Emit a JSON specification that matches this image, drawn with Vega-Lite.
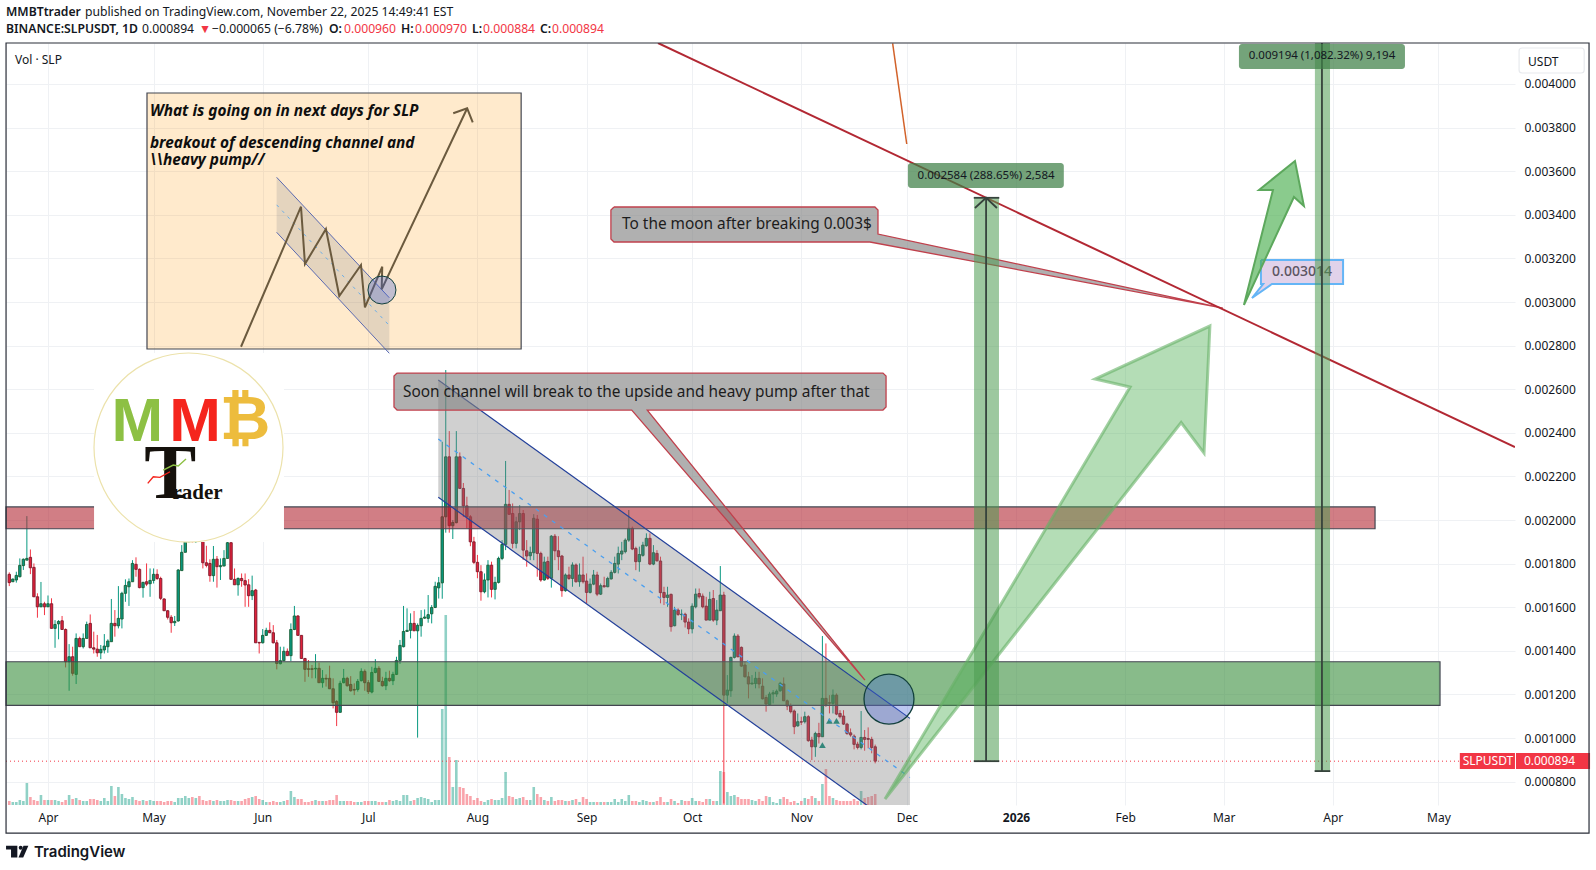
{
"$schema":"https://vega.github.io/schema/vega-lite/v6.json",
"autosize":"none",
"width":1509,"height":762,
"padding":{"left":6,"top":43,"right":81,"bottom":65},
"background":"#ffffff",
"config":{"view":{"stroke":null},"font":"Noto Sans"},
"datasets":{"candles":[
{"d":"2025-03-21","o":0.001751,"h":0.00176,"l":0.001697,"c":0.001713,"v":4},
{"d":"2025-03-22","o":0.001717,"h":0.001732,"l":0.001717,"c":0.001729,"v":3},
{"d":"2025-03-23","o":0.001725,"h":0.001763,"l":0.001713,"c":0.001746,"v":3},
{"d":"2025-03-24","o":0.00174,"h":0.001824,"l":0.001737,"c":0.001792,"v":5},
{"d":"2025-03-25","o":0.001791,"h":0.001824,"l":0.001771,"c":0.00182,"v":4},
{"d":"2025-03-26","o":0.001816,"h":0.002018,"l":0.001816,"c":0.001824,"v":22},
{"d":"2025-03-27","o":0.001829,"h":0.001865,"l":0.001752,"c":0.001781,"v":8},
{"d":"2025-03-28","o":0.001783,"h":0.001801,"l":0.001648,"c":0.001648,"v":5},
{"d":"2025-03-29","o":0.001648,"h":0.001664,"l":0.001552,"c":0.001602,"v":4},
{"d":"2025-03-30","o":0.001602,"h":0.001716,"l":0.001602,"c":0.001616,"v":10},
{"d":"2025-03-31","o":0.001616,"h":0.001625,"l":0.001564,"c":0.001602,"v":5},
{"d":"2025-04-01","o":0.001602,"h":0.001654,"l":0.001602,"c":0.001616,"v":5},
{"d":"2025-04-02","o":0.001616,"h":0.001641,"l":0.001503,"c":0.001503,"v":5},
{"d":"2025-04-03","o":0.001503,"h":0.001541,"l":0.001414,"c":0.001521,"v":5},
{"d":"2025-04-04","o":0.001524,"h":0.001541,"l":0.001453,"c":0.001535,"v":4},
{"d":"2025-04-05","o":0.001538,"h":0.00156,"l":0.001498,"c":0.001498,"v":3},
{"d":"2025-04-06","o":0.001498,"h":0.001503,"l":0.001324,"c":0.00135,"v":5},
{"d":"2025-04-07","o":0.00135,"h":0.001431,"l":0.001217,"c":0.001373,"v":10},
{"d":"2025-04-08","o":0.001373,"h":0.001419,"l":0.001286,"c":0.001297,"v":6},
{"d":"2025-04-09","o":0.001292,"h":0.00148,"l":0.001248,"c":0.001457,"v":7},
{"d":"2025-04-10","o":0.001457,"h":0.001465,"l":0.001419,"c":0.001419,"v":5},
{"d":"2025-04-11","o":0.001419,"h":0.00148,"l":0.001411,"c":0.001457,"v":4},
{"d":"2025-04-12","o":0.001457,"h":0.001534,"l":0.001457,"c":0.001521,"v":4},
{"d":"2025-04-13","o":0.001526,"h":0.001567,"l":0.001414,"c":0.001414,"v":6},
{"d":"2025-04-14","o":0.001414,"h":0.001488,"l":0.001388,"c":0.001408,"v":6},
{"d":"2025-04-15","o":0.001408,"h":0.001473,"l":0.001373,"c":0.001391,"v":5},
{"d":"2025-04-16","o":0.001391,"h":0.001427,"l":0.001362,"c":0.001407,"v":4},
{"d":"2025-04-17","o":0.001404,"h":0.001477,"l":0.001388,"c":0.001422,"v":7},
{"d":"2025-04-18","o":0.001419,"h":0.001453,"l":0.001391,"c":0.001445,"v":4},
{"d":"2025-04-19","o":0.001442,"h":0.001638,"l":0.001442,"c":0.001526,"v":19},
{"d":"2025-04-20","o":0.001526,"h":0.001587,"l":0.001465,"c":0.001515,"v":9},
{"d":"2025-04-21","o":0.001515,"h":0.001697,"l":0.001503,"c":0.001549,"v":18},
{"d":"2025-04-22","o":0.001546,"h":0.001671,"l":0.001503,"c":0.001664,"v":11},
{"d":"2025-04-23","o":0.001664,"h":0.001728,"l":0.001625,"c":0.0017,"v":7},
{"d":"2025-04-24","o":0.001694,"h":0.001732,"l":0.001606,"c":0.001717,"v":6},
{"d":"2025-04-25","o":0.001717,"h":0.001816,"l":0.001717,"c":0.001801,"v":8},
{"d":"2025-04-26","o":0.001797,"h":0.001829,"l":0.00174,"c":0.001774,"v":5},
{"d":"2025-04-27","o":0.001774,"h":0.001778,"l":0.001687,"c":0.00169,"v":4},
{"d":"2025-04-28","o":0.00169,"h":0.001717,"l":0.001644,"c":0.001714,"v":5},
{"d":"2025-04-29","o":0.001717,"h":0.001801,"l":0.001697,"c":0.001706,"v":4},
{"d":"2025-04-30","o":0.001708,"h":0.001778,"l":0.001648,"c":0.001723,"v":5},
{"d":"2025-05-01","o":0.001723,"h":0.001778,"l":0.001709,"c":0.001751,"v":4},
{"d":"2025-05-02","o":0.001751,"h":0.001774,"l":0.001725,"c":0.001732,"v":4},
{"d":"2025-05-03","o":0.001732,"h":0.00174,"l":0.001633,"c":0.001641,"v":4},
{"d":"2025-05-04","o":0.001638,"h":0.001641,"l":0.001584,"c":0.001584,"v":3},
{"d":"2025-05-05","o":0.001584,"h":0.001587,"l":0.001544,"c":0.001554,"v":4},
{"d":"2025-05-06","o":0.001554,"h":0.001564,"l":0.001483,"c":0.001529,"v":4},
{"d":"2025-05-07","o":0.001529,"h":0.00156,"l":0.001514,"c":0.001535,"v":3},
{"d":"2025-05-08","o":0.001537,"h":0.001774,"l":0.001534,"c":0.001771,"v":7},
{"d":"2025-05-09","o":0.001768,"h":0.001885,"l":0.001768,"c":0.001852,"v":7},
{"d":"2025-05-10","o":0.001852,"h":0.001924,"l":0.001852,"c":0.001901,"v":9},
{"d":"2025-05-11","o":0.001901,"h":0.00199,"l":0.001897,"c":0.00195,"v":7},
{"d":"2025-05-12","o":0.00195,"h":0.001985,"l":0.001897,"c":0.001925,"v":8},
{"d":"2025-05-13","o":0.001925,"h":0.00199,"l":0.001895,"c":0.00196,"v":7},
{"d":"2025-05-14","o":0.00196,"h":0.001985,"l":0.0019,"c":0.00194,"v":9},
{"d":"2025-05-15","o":0.00194,"h":0.00196,"l":0.001778,"c":0.001804,"v":5},
{"d":"2025-05-16","o":0.001804,"h":0.001882,"l":0.001783,"c":0.001792,"v":4},
{"d":"2025-05-17","o":0.001801,"h":0.00182,"l":0.001717,"c":0.001745,"v":5},
{"d":"2025-05-18","o":0.001745,"h":0.001881,"l":0.001717,"c":0.00182,"v":4},
{"d":"2025-05-19","o":0.001821,"h":0.001835,"l":0.00169,"c":0.001786,"v":5},
{"d":"2025-05-20","o":0.001786,"h":0.001824,"l":0.001725,"c":0.001791,"v":4},
{"d":"2025-05-21","o":0.001789,"h":0.001862,"l":0.001789,"c":0.001824,"v":4},
{"d":"2025-05-22","o":0.001824,"h":0.0019,"l":0.001824,"c":0.001896,"v":5},
{"d":"2025-05-23","o":0.001896,"h":0.0019,"l":0.001728,"c":0.001728,"v":5},
{"d":"2025-05-24","o":0.001728,"h":0.001778,"l":0.001703,"c":0.001703,"v":4},
{"d":"2025-05-25","o":0.001703,"h":0.001737,"l":0.001653,"c":0.001732,"v":4},
{"d":"2025-05-26","o":0.001732,"h":0.001755,"l":0.001694,"c":0.001722,"v":4},
{"d":"2025-05-27","o":0.001722,"h":0.001755,"l":0.001602,"c":0.001702,"v":6},
{"d":"2025-05-28","o":0.001703,"h":0.001729,"l":0.001602,"c":0.001653,"v":7},
{"d":"2025-05-29","o":0.001653,"h":0.001745,"l":0.001633,"c":0.001676,"v":8},
{"d":"2025-05-30","o":0.001679,"h":0.001684,"l":0.001437,"c":0.001437,"v":9},
{"d":"2025-05-31","o":0.001439,"h":0.001439,"l":0.001388,"c":0.001436,"v":6},
{"d":"2025-06-01","o":0.001437,"h":0.0015,"l":0.001434,"c":0.001471,"v":5},
{"d":"2025-06-02","o":0.001471,"h":0.001506,"l":0.001468,"c":0.001494,"v":3},
{"d":"2025-06-03","o":0.001494,"h":0.001531,"l":0.001483,"c":0.001483,"v":3},
{"d":"2025-06-04","o":0.001483,"h":0.001518,"l":0.001434,"c":0.001437,"v":4},
{"d":"2025-06-05","o":0.001437,"h":0.00145,"l":0.001315,"c":0.001342,"v":3},
{"d":"2025-06-06","o":0.001341,"h":0.001419,"l":0.001338,"c":0.001355,"v":3},
{"d":"2025-06-07","o":0.001355,"h":0.001419,"l":0.001353,"c":0.001398,"v":4},
{"d":"2025-06-08","o":0.001398,"h":0.001411,"l":0.001378,"c":0.001378,"v":5},
{"d":"2025-06-09","o":0.001378,"h":0.001526,"l":0.001353,"c":0.001498,"v":14},
{"d":"2025-06-10","o":0.001498,"h":0.001606,"l":0.001495,"c":0.00156,"v":8},
{"d":"2025-06-11","o":0.00156,"h":0.001564,"l":0.001471,"c":0.001471,"v":6},
{"d":"2025-06-12","o":0.001471,"h":0.001472,"l":0.001365,"c":0.001365,"v":6},
{"d":"2025-06-13","o":0.001365,"h":0.001368,"l":0.001258,"c":0.001315,"v":3},
{"d":"2025-06-14","o":0.001318,"h":0.001358,"l":0.001281,"c":0.001315,"v":3},
{"d":"2025-06-15","o":0.001318,"h":0.001335,"l":0.001274,"c":0.001315,"v":4},
{"d":"2025-06-16","o":0.001317,"h":0.001385,"l":0.001274,"c":0.00132,"v":5},
{"d":"2025-06-17","o":0.00132,"h":0.001346,"l":0.001254,"c":0.001254,"v":4},
{"d":"2025-06-18","o":0.001254,"h":0.001312,"l":0.001231,"c":0.001274,"v":4},
{"d":"2025-06-19","o":0.001274,"h":0.001292,"l":0.001236,"c":0.001271,"v":4},
{"d":"2025-06-20","o":0.001274,"h":0.001332,"l":0.001226,"c":0.001226,"v":5},
{"d":"2025-06-21","o":0.001226,"h":0.001274,"l":0.001136,"c":0.001162,"v":5},
{"d":"2025-06-22","o":0.001168,"h":0.001174,"l":0.001055,"c":0.001118,"v":10},
{"d":"2025-06-23","o":0.001118,"h":0.001263,"l":0.001118,"c":0.001251,"v":4},
{"d":"2025-06-24","o":0.001254,"h":0.001317,"l":0.001251,"c":0.001274,"v":4},
{"d":"2025-06-25","o":0.001274,"h":0.001281,"l":0.001236,"c":0.00124,"v":4},
{"d":"2025-06-26","o":0.001246,"h":0.001284,"l":0.001213,"c":0.001217,"v":4},
{"d":"2025-06-27","o":0.001223,"h":0.001251,"l":0.001197,"c":0.00122,"v":3},
{"d":"2025-06-28","o":0.001223,"h":0.001271,"l":0.001213,"c":0.00126,"v":3},
{"d":"2025-06-29","o":0.001263,"h":0.00132,"l":0.00126,"c":0.001306,"v":3},
{"d":"2025-06-30","o":0.001306,"h":0.001315,"l":0.001217,"c":0.001254,"v":4},
{"d":"2025-07-01","o":0.001254,"h":0.001266,"l":0.001202,"c":0.001213,"v":4},
{"d":"2025-07-02","o":0.001211,"h":0.001327,"l":0.001205,"c":0.001301,"v":4},
{"d":"2025-07-03","o":0.001301,"h":0.001362,"l":0.001297,"c":0.00132,"v":4},
{"d":"2025-07-04","o":0.00132,"h":0.00133,"l":0.001257,"c":0.00126,"v":3},
{"d":"2025-07-05","o":0.00126,"h":0.001281,"l":0.001236,"c":0.00124,"v":3},
{"d":"2025-07-06","o":0.00124,"h":0.001304,"l":0.00122,"c":0.001274,"v":3},
{"d":"2025-07-07","o":0.001274,"h":0.001309,"l":0.001258,"c":0.001263,"v":5},
{"d":"2025-07-08","o":0.001263,"h":0.001304,"l":0.001243,"c":0.001292,"v":4},
{"d":"2025-07-09","o":0.001292,"h":0.001373,"l":0.001289,"c":0.001356,"v":5},
{"d":"2025-07-10","o":0.001356,"h":0.00145,"l":0.00134,"c":0.001425,"v":4},
{"d":"2025-07-11","o":0.001419,"h":0.001606,"l":0.001416,"c":0.001489,"v":10},
{"d":"2025-07-12","o":0.001489,"h":0.001595,"l":0.001489,"c":0.001494,"v":10},
{"d":"2025-07-13","o":0.001494,"h":0.001572,"l":0.001457,"c":0.001526,"v":4},
{"d":"2025-07-14","o":0.001526,"h":0.001583,"l":0.001492,"c":0.001492,"v":5},
{"d":"2025-07-15","o":0.001492,"h":0.001526,"l":0.001002,"c":0.001517,"v":7},
{"d":"2025-07-16","o":0.001515,"h":0.001587,"l":0.001465,"c":0.001549,"v":8},
{"d":"2025-07-17","o":0.00155,"h":0.00159,"l":0.001547,"c":0.001555,"v":7},
{"d":"2025-07-18","o":0.001549,"h":0.001656,"l":0.001529,"c":0.001566,"v":6},
{"d":"2025-07-19","o":0.00157,"h":0.00161,"l":0.001526,"c":0.001599,"v":3},
{"d":"2025-07-20","o":0.001599,"h":0.001717,"l":0.001596,"c":0.001696,"v":5},
{"d":"2025-07-21","o":0.001689,"h":0.001739,"l":0.00164,"c":0.001712,"v":5},
{"d":"2025-07-22","o":0.001712,"h":0.002359,"l":0.001639,"c":0.002015,"v":96},
{"d":"2025-07-23","o":0.002015,"h":0.002688,"l":0.001942,"c":0.00229,"v":190},
{"d":"2025-07-24","o":0.00229,"h":0.002408,"l":0.001942,"c":0.001974,"v":48},
{"d":"2025-07-25","o":0.001974,"h":0.002,"l":0.001913,"c":0.001989,"v":18},
{"d":"2025-07-26","o":0.001988,"h":0.002408,"l":0.001985,"c":0.00229,"v":45},
{"d":"2025-07-27","o":0.00229,"h":0.00231,"l":0.002145,"c":0.002145,"v":18},
{"d":"2025-07-28","o":0.002145,"h":0.00217,"l":0.002015,"c":0.002065,"v":17},
{"d":"2025-07-29","o":0.002065,"h":0.002107,"l":0.001962,"c":0.002015,"v":11},
{"d":"2025-07-30","o":0.002015,"h":0.002023,"l":0.00188,"c":0.0019,"v":9},
{"d":"2025-07-31","o":0.0019,"h":0.001923,"l":0.001798,"c":0.001806,"v":5},
{"d":"2025-08-01","o":0.001806,"h":0.00184,"l":0.001733,"c":0.001763,"v":7},
{"d":"2025-08-02","o":0.001763,"h":0.001793,"l":0.00163,"c":0.001671,"v":4},
{"d":"2025-08-03","o":0.001671,"h":0.001755,"l":0.001664,"c":0.001725,"v":3},
{"d":"2025-08-04","o":0.001725,"h":0.001816,"l":0.001645,"c":0.001793,"v":5},
{"d":"2025-08-05","o":0.001793,"h":0.001809,"l":0.001645,"c":0.001682,"v":6},
{"d":"2025-08-06","o":0.001682,"h":0.00174,"l":0.001636,"c":0.001714,"v":5},
{"d":"2025-08-07","o":0.001714,"h":0.001832,"l":0.001709,"c":0.001824,"v":5},
{"d":"2025-08-08","o":0.001824,"h":0.001908,"l":0.001816,"c":0.001888,"v":7},
{"d":"2025-08-09","o":0.001888,"h":0.002271,"l":0.001862,"c":0.002072,"v":33},
{"d":"2025-08-10","o":0.002072,"h":0.002138,"l":0.002026,"c":0.002026,"v":9},
{"d":"2025-08-11","o":0.00203,"h":0.002076,"l":0.00187,"c":0.001893,"v":8},
{"d":"2025-08-12","o":0.001893,"h":0.002015,"l":0.00187,"c":0.001992,"v":6},
{"d":"2025-08-13","o":0.001992,"h":0.002068,"l":0.001954,"c":0.00203,"v":7},
{"d":"2025-08-14","o":0.00203,"h":0.002046,"l":0.001817,"c":0.001862,"v":8},
{"d":"2025-08-15","o":0.001859,"h":0.001908,"l":0.001786,"c":0.001835,"v":5},
{"d":"2025-08-16","o":0.001836,"h":0.001878,"l":0.001816,"c":0.001852,"v":5},
{"d":"2025-08-17","o":0.00185,"h":0.002027,"l":0.001816,"c":0.002008,"v":18},
{"d":"2025-08-18","o":0.002004,"h":0.002023,"l":0.00174,"c":0.001847,"v":11},
{"d":"2025-08-19","o":0.001847,"h":0.001855,"l":0.001717,"c":0.001725,"v":8},
{"d":"2025-08-20","o":0.001725,"h":0.001832,"l":0.001722,"c":0.001807,"v":5},
{"d":"2025-08-21","o":0.00181,"h":0.001832,"l":0.001725,"c":0.001733,"v":4},
{"d":"2025-08-22","o":0.001733,"h":0.001931,"l":0.00169,"c":0.001926,"v":8},
{"d":"2025-08-23","o":0.001926,"h":0.001936,"l":0.001816,"c":0.001859,"v":4},
{"d":"2025-08-24","o":0.001859,"h":0.001926,"l":0.00177,"c":0.001832,"v":5},
{"d":"2025-08-25","o":0.001835,"h":0.00184,"l":0.001648,"c":0.001676,"v":5},
{"d":"2025-08-26","o":0.001676,"h":0.001755,"l":0.001671,"c":0.001748,"v":4},
{"d":"2025-08-27","o":0.001748,"h":0.001786,"l":0.001725,"c":0.001732,"v":4},
{"d":"2025-08-28","o":0.001732,"h":0.001806,"l":0.001694,"c":0.001794,"v":5},
{"d":"2025-08-29","o":0.001794,"h":0.001801,"l":0.001713,"c":0.001717,"v":6},
{"d":"2025-08-30","o":0.001717,"h":0.001801,"l":0.001694,"c":0.001748,"v":3},
{"d":"2025-08-31","o":0.001748,"h":0.001832,"l":0.001709,"c":0.001717,"v":8},
{"d":"2025-09-01","o":0.00172,"h":0.001755,"l":0.001618,"c":0.001668,"v":6},
{"d":"2025-09-02","o":0.001668,"h":0.001732,"l":0.001663,"c":0.001706,"v":3},
{"d":"2025-09-03","o":0.001706,"h":0.001771,"l":0.001701,"c":0.001748,"v":3},
{"d":"2025-09-04","o":0.001748,"h":0.001763,"l":0.001651,"c":0.00166,"v":3},
{"d":"2025-09-05","o":0.00166,"h":0.001709,"l":0.001656,"c":0.001699,"v":3},
{"d":"2025-09-06","o":0.001699,"h":0.00174,"l":0.00169,"c":0.001694,"v":3},
{"d":"2025-09-07","o":0.001694,"h":0.00174,"l":0.001692,"c":0.001732,"v":3},
{"d":"2025-09-08","o":0.00173,"h":0.00177,"l":0.001727,"c":0.00176,"v":3},
{"d":"2025-09-09","o":0.00176,"h":0.001832,"l":0.001755,"c":0.001801,"v":6},
{"d":"2025-09-10","o":0.001798,"h":0.001878,"l":0.001755,"c":0.001847,"v":3},
{"d":"2025-09-11","o":0.001844,"h":0.0019,"l":0.001816,"c":0.001858,"v":6},
{"d":"2025-09-12","o":0.001855,"h":0.001916,"l":0.001847,"c":0.001908,"v":4},
{"d":"2025-09-13","o":0.001908,"h":0.002046,"l":0.0019,"c":0.001962,"v":10},
{"d":"2025-09-14","o":0.001962,"h":0.00197,"l":0.001862,"c":0.001867,"v":4},
{"d":"2025-09-15","o":0.00187,"h":0.001878,"l":0.00177,"c":0.001809,"v":4},
{"d":"2025-09-16","o":0.001809,"h":0.001878,"l":0.001763,"c":0.001842,"v":3},
{"d":"2025-09-17","o":0.001838,"h":0.0019,"l":0.001832,"c":0.001885,"v":5},
{"d":"2025-09-18","o":0.001882,"h":0.001939,"l":0.001878,"c":0.001916,"v":4},
{"d":"2025-09-19","o":0.001916,"h":0.001939,"l":0.001793,"c":0.001798,"v":3},
{"d":"2025-09-20","o":0.001798,"h":0.001885,"l":0.001793,"c":0.00185,"v":3},
{"d":"2025-09-21","o":0.001847,"h":0.001862,"l":0.001809,"c":0.001813,"v":4},
{"d":"2025-09-22","o":0.001812,"h":0.001832,"l":0.001618,"c":0.001667,"v":8},
{"d":"2025-09-23","o":0.001668,"h":0.001694,"l":0.00161,"c":0.001645,"v":3},
{"d":"2025-09-24","o":0.001645,"h":0.001694,"l":0.001602,"c":0.001656,"v":3},
{"d":"2025-09-25","o":0.001659,"h":0.001663,"l":0.001488,"c":0.001511,"v":6},
{"d":"2025-09-26","o":0.001515,"h":0.001602,"l":0.001513,"c":0.001587,"v":4},
{"d":"2025-09-27","o":0.001587,"h":0.001595,"l":0.00156,"c":0.001567,"v":2},
{"d":"2025-09-28","o":0.001566,"h":0.00159,"l":0.001541,"c":0.001568,"v":5},
{"d":"2025-09-29","o":0.001568,"h":0.001575,"l":0.001507,"c":0.001532,"v":4},
{"d":"2025-09-30","o":0.001532,"h":0.001549,"l":0.001477,"c":0.001501,"v":4},
{"d":"2025-10-01","o":0.001501,"h":0.001618,"l":0.00148,"c":0.001605,"v":7},
{"d":"2025-10-02","o":0.001602,"h":0.001686,"l":0.001595,"c":0.00166,"v":4},
{"d":"2025-10-03","o":0.001663,"h":0.001686,"l":0.00164,"c":0.001648,"v":4},
{"d":"2025-10-04","o":0.001651,"h":0.001663,"l":0.001595,"c":0.001602,"v":3},
{"d":"2025-10-05","o":0.001605,"h":0.001648,"l":0.001541,"c":0.001541,"v":6},
{"d":"2025-10-06","o":0.001541,"h":0.001671,"l":0.001541,"c":0.001636,"v":6},
{"d":"2025-10-07","o":0.00164,"h":0.001679,"l":0.001533,"c":0.001541,"v":4},
{"d":"2025-10-08","o":0.001541,"h":0.001633,"l":0.001518,"c":0.001587,"v":4},
{"d":"2025-10-09","o":0.001584,"h":0.001789,"l":0.001584,"c":0.001656,"v":34},
{"d":"2025-10-10","o":0.001656,"h":0.001671,"l":0.0007,"c":0.001197,"v":33},
{"d":"2025-10-11","o":0.001197,"h":0.001289,"l":0.001159,"c":0.00122,"v":13},
{"d":"2025-10-12","o":0.001217,"h":0.001373,"l":0.001189,"c":0.00137,"v":9},
{"d":"2025-10-13","o":0.00137,"h":0.00148,"l":0.001365,"c":0.001468,"v":10},
{"d":"2025-10-14","o":0.001468,"h":0.001477,"l":0.00137,"c":0.001373,"v":8},
{"d":"2025-10-15","o":0.001416,"h":0.00142,"l":0.001327,"c":0.00133,"v":6},
{"d":"2025-10-16","o":0.001335,"h":0.00135,"l":0.001278,"c":0.001281,"v":6},
{"d":"2025-10-17","o":0.001281,"h":0.001304,"l":0.001182,"c":0.001248,"v":6},
{"d":"2025-10-18","o":0.001248,"h":0.001289,"l":0.001246,"c":0.001252,"v":5},
{"d":"2025-10-19","o":0.00125,"h":0.001304,"l":0.001228,"c":0.001274,"v":4},
{"d":"2025-10-20","o":0.001274,"h":0.001304,"l":0.001228,"c":0.001248,"v":6},
{"d":"2025-10-21","o":0.001238,"h":0.001274,"l":0.001177,"c":0.00118,"v":4},
{"d":"2025-10-22","o":0.001186,"h":0.001197,"l":0.001121,"c":0.001156,"v":9},
{"d":"2025-10-23","o":0.001153,"h":0.001212,"l":0.001151,"c":0.001202,"v":8},
{"d":"2025-10-24","o":0.001202,"h":0.00122,"l":0.001159,"c":0.001208,"v":3},
{"d":"2025-10-25","o":0.001202,"h":0.001223,"l":0.001189,"c":0.001215,"v":2},
{"d":"2025-10-26","o":0.001217,"h":0.001258,"l":0.001212,"c":0.001251,"v":6},
{"d":"2025-10-27","o":0.001248,"h":0.001278,"l":0.001171,"c":0.001171,"v":8},
{"d":"2025-10-28","o":0.001171,"h":0.001177,"l":0.001128,"c":0.001147,"v":6},
{"d":"2025-10-29","o":0.001147,"h":0.001159,"l":0.001113,"c":0.001121,"v":3},
{"d":"2025-10-30","o":0.001124,"h":0.001131,"l":0.001018,"c":0.001052,"v":4},
{"d":"2025-10-31","o":0.001056,"h":0.001113,"l":0.001052,"c":0.001075,"v":2},
{"d":"2025-11-01","o":0.001075,"h":0.001098,"l":0.00106,"c":0.001073,"v":4},
{"d":"2025-11-02","o":0.001075,"h":0.001121,"l":0.001067,"c":0.001098,"v":7},
{"d":"2025-11-03","o":0.001098,"h":0.001105,"l":0.000983,"c":0.000988,"v":6},
{"d":"2025-11-04","o":0.000991,"h":0.001006,"l":0.000899,"c":0.00096,"v":9},
{"d":"2025-11-05","o":0.00096,"h":0.001029,"l":0.000914,"c":0.001021,"v":7},
{"d":"2025-11-06","o":0.001021,"h":0.00107,"l":0.000975,"c":0.001006,"v":4},
{"d":"2025-11-07","o":0.001006,"h":0.001468,"l":0.001006,"c":0.001182,"v":21},
{"d":"2025-11-08","o":0.001182,"h":0.001434,"l":0.001143,"c":0.001154,"v":36},
{"d":"2025-11-09","o":0.001162,"h":0.001197,"l":0.001113,"c":0.00116,"v":9},
{"d":"2025-11-10","o":0.001159,"h":0.001223,"l":0.001113,"c":0.001197,"v":7},
{"d":"2025-11-11","o":0.001197,"h":0.001205,"l":0.001105,"c":0.00111,"v":5},
{"d":"2025-11-12","o":0.001113,"h":0.001128,"l":0.00109,"c":0.001098,"v":4},
{"d":"2025-11-13","o":0.001101,"h":0.001128,"l":0.00106,"c":0.001064,"v":4},
{"d":"2025-11-14","o":0.001064,"h":0.00107,"l":0.001014,"c":0.001021,"v":4},
{"d":"2025-11-15","o":0.001024,"h":0.001044,"l":0.001006,"c":0.001014,"v":4},
{"d":"2025-11-16","o":0.001009,"h":0.001017,"l":0.000948,"c":0.000971,"v":6},
{"d":"2025-11-17","o":0.000972,"h":0.000983,"l":0.000948,"c":0.000957,"v":4},
{"d":"2025-11-18","o":0.000957,"h":0.001124,"l":0.000948,"c":0.001003,"v":14},
{"d":"2025-11-19","o":0.001003,"h":0.001037,"l":0.000942,"c":0.000994,"v":7},
{"d":"2025-11-20","o":0.000998,"h":0.001049,"l":0.000953,"c":0.000994,"v":8},
{"d":"2025-11-21","o":0.000994,"h":0.001006,"l":0.00093,"c":0.000957,"v":9},
{"d":"2025-11-22","o":0.00096,"h":0.00097,"l":0.000884,"c":0.000894,"v":11}
]},
"encoding":{"x":{"field":"d","type":"temporal",
"scale":{"type":"utc","domain":[{"year":2025,"month":3,"date":20,"hours":1,"minutes":41,"utc":true},{"year":2026,"month":5,"date":22,"hours":18,"minutes":14,"utc":true}],"nice":false,"padding":0},
"axis":{"title":null,"grid":true,"gridColor":"#eff1f4","gridWidth":1,"domain":false,"ticks":false,"labelPadding":7,"labelFontSize":12,"labelColor":"#131722","labelFont":"Noto Sans","labelOverlap":false,"labelFlush":false,
"values":[{"year":2025,"month":4,"date":1,"utc":true},{"year":2025,"month":5,"date":1,"utc":true},{"year":2025,"month":6,"date":1,"utc":true},{"year":2025,"month":7,"date":1,"utc":true},{"year":2025,"month":8,"date":1,"utc":true},{"year":2025,"month":9,"date":1,"utc":true},{"year":2025,"month":10,"date":1,"utc":true},{"year":2025,"month":11,"date":1,"utc":true},{"year":2025,"month":12,"date":1,"utc":true},{"year":2026,"month":1,"date":1,"utc":true},{"year":2026,"month":2,"date":1,"utc":true},{"year":2026,"month":3,"date":1,"utc":true},{"year":2026,"month":4,"date":1,"utc":true},{"year":2026,"month":5,"date":1,"utc":true}],
"labelExpr":"utcmonth(datum.value)==0 ? '2026' : utcFormat(datum.value,'%b')",
"labelFontWeight":{"condition":{"test":"utcmonth(datum.value)==0","value":"bold"},"value":"normal"}}}},
"resolve":{"scale":{"y":"independent"}},
"layer":[
{"data":{"name":"candles"},"mark":{"type":"bar","size":2.6,"opacity":0.45},
"encoding":{"y":{"field":"v","type":"quantitative","scale":{"domain":[0,762],"nice":false},"axis":null},
"color":{"condition":{"test":"datum.c>=datum.o","value":"#089981"},"value":"#f23645"}}},
{"encoding":{"y":{"field":"p","type":"quantitative","scale":{"domain":[0.000693,0.004188],"nice":false,"zero":false},
"axis":{"title":null,"orient":"right","grid":true,"gridColor":"#eff1f4","gridWidth":1,"domain":false,"ticks":false,"labelPadding":9,"labelFontSize":12,"labelColor":"#131722","labelFont":"Noto Sans","labelOverlap":false,"labelFlush":false,"format":".6f",
"values":[0.0008,0.001,0.0012,0.0014,0.0016,0.0018,0.002,0.0022,0.0024,0.0026,0.0028,0.003,0.0032,0.0034,0.0036,0.0038,0.004]}}},
"layer":[
{"data":{"name":"candles"},"mark":{"type":"rule","strokeWidth":1},"encoding":{"y":{"field":"l","type":"quantitative"},"y2":{"field":"h"},"color":{"condition":{"test":"datum.c>=datum.o","value":"#089981"},"value":"#f23645"}}},
{"data":{"name":"candles"},"mark":{"type":"bar","size":2.4,"strokeWidth":0.9},"encoding":{"y":{"field":"o","type":"quantitative"},"y2":{"field":"c"},"color":{"condition":{"test":"datum.c>=datum.o","value":"#089981"},"value":"#e0213a"},"stroke":{"condition":{"test":"datum.c>=datum.o","value":"#1b5e33"},"value":"#7d1a2b"}}},
{"data":{"values":[{"d":"2025-11-07","p":0.000968},{"d":"2025-11-09","p":0.001079},{"d":"2025-11-11","p":0.001079}]},"mark":{"type":"point","shape":"triangle-up","filled":true,"size":45,"color":"#0f8f7d","opacity":1}},
{"data":{"values":[{"p":0.000894}]},"mark":{"type":"rule","color":"#f23645","strokeDash":[1,3],"strokeWidth":1},"encoding":{"x":{"value":0},"x2":{"value":1509},"y":{"field":"p","type":"quantitative"}}},
{"data":{"values":[{"d":"2025-03-20T02:00Z","d2":"2026-04-13","p":0.00206,"p2":0.00196}]},"mark":{"type":"rect","fill":"#b22833","fillOpacity":0.6,"stroke":"#434651","strokeWidth":1.2},"encoding":{"x2":{"field":"d2"},"y2":{"field":"p2"}}},
{"data":{"values":[{"d":"2025-03-20T02:00Z","d2":"2026-05-01T11:00Z","p":0.00135,"p2":0.00115}]},"mark":{"type":"rect","fill":"#388e3c","fillOpacity":0.6,"stroke":"#434651","strokeWidth":1.2},"encoding":{"x2":{"field":"d2"},"y2":{"field":"p2"}}},
{"data":{"values":[{"i":1,"d":"2025-07-20T21:00Z","p":0.0026422},{"i":2,"d":"2025-12-01T21:00Z","p":0.0010903},{"i":3,"d":"2025-12-01T21:00Z","p":0.0005503},{"i":4,"d":"2025-07-20T21:00Z","p":0.0021041}]},"mark":{"type":"line","clip":true,"stroke":null,"fill":"#777777","fillOpacity":0.35},"encoding":{"order":{"field":"i"}}},
{"data":{"values":[{"g":"u","d":"2025-07-20T21:00Z","p":0.0026422},{"g":"u","d":"2025-12-01T21:00Z","p":0.0010903},{"g":"l","d":"2025-07-20T21:00Z","p":0.0021041},{"g":"l","d":"2025-12-01T21:00Z","p":0.0005503}]},"mark":{"type":"line","clip":true,"color":"#23409a","strokeWidth":1.2},"encoding":{"detail":{"field":"g"}}},
{"data":{"values":[{"d":"2025-07-20T21:00Z","p":0.0023715},{"d":"2025-12-01T21:00Z","p":0.0008188}]},"mark":{"type":"line","clip":true,"color":"#4a9ff0","strokeWidth":1.3,"strokeDash":[4,6]}},
{"data":{"values":[{"d":"2025-11-25T22:00Z","p":0.0011788}]},"mark":{"type":"circle","size":2500,"fill":"#3f5fd8","fillOpacity":0.35,"stroke":"#12403c","strokeWidth":1.3,"opacity":1}},
{"data":{"values":[{"i":1,"d":"2025-07-09T04:00Z","p":0.0026743},{"i":2,"d":"2025-11-24T05:00Z","p":0.0026743},{"i":3,"d":"2025-11-25T02:00Z","p":0.0026605},{"i":4,"d":"2025-11-25T02:00Z","p":0.0025183},{"i":5,"d":"2025-11-24T05:00Z","p":0.0025045},{"i":6,"d":"2025-09-18T06:00Z","p":0.0025045},{"i":7,"d":"2025-11-19T02:00Z","p":0.001266},{"i":8,"d":"2025-09-13T20:00Z","p":0.0025045},{"i":9,"d":"2025-07-09T04:00Z","p":0.0025045},{"i":10,"d":"2025-07-08T07:00Z","p":0.0025183},{"i":11,"d":"2025-07-08T07:00Z","p":0.0026605},{"i":12,"d":"2025-07-09T04:00Z","p":0.0026743}]},"mark":{"type":"line","stroke":"#c0404c","strokeWidth":1.3,"fill":"#808080","fillOpacity":0.62},"encoding":{"order":{"field":"i"}}},
{"data":{"values":[{"i":1,"d":"2025-09-08T19:00Z","p":0.0034357},{"i":2,"d":"2025-11-21T22:00Z","p":0.0034357},{"i":3,"d":"2025-11-22T19:00Z","p":0.0034219},{"i":4,"d":"2025-11-22T19:00Z","p":0.0033118},{"i":5,"d":"2026-02-28T19:00Z","p":0.0029724},{"i":6,"d":"2025-11-20T12:00Z","p":0.0032752},{"i":7,"d":"2025-09-08T19:00Z","p":0.0032752},{"i":8,"d":"2025-09-07T22:00Z","p":0.0032889},{"i":9,"d":"2025-09-07T22:00Z","p":0.0034219},{"i":10,"d":"2025-09-08T19:00Z","p":0.0034357}]},"mark":{"type":"line","stroke":"#c0404c","strokeWidth":1.3,"fill":"#808080","fillOpacity":0.62},"encoding":{"order":{"field":"i"}}},
{"data":{"values":[{"d":"2025-09-21T07:00Z","p":0.004188},{"d":"2026-05-22T18:00Z","p":0.0023348}]},"mark":{"type":"line","clip":true,"color":"#b22833","strokeWidth":2}},
{"data":{"values":[{"d":"2025-11-26T23:00Z","p":0.004186},{"d":"2025-11-30T23:00Z","p":0.0037247}]},"mark":{"type":"line","clip":true,"color":"#d2622a","strokeWidth":1.5}},
{"data":{"values":[{"i":1,"d":"2025-11-24T19:00Z","p":0.0007201},{"i":2,"d":"2026-02-02T10:00Z","p":0.0026101},{"i":3,"d":"2026-01-23T11:00Z","p":0.0026468},{"i":4,"d":"2026-02-25T02:00Z","p":0.0028899},{"i":5,"d":"2026-02-23T10:00Z","p":0.0023073},{"i":6,"d":"2026-02-16T22:00Z","p":0.0024472},{"i":7,"d":"2025-11-24T19:00Z","p":0.0007201}]},"mark":{"type":"line","stroke":"#66b066","strokeOpacity":0.6,"strokeWidth":3,"fill":"#4caf50","fillOpacity":0.42},"encoding":{"order":{"field":"i"}}},
{"data":{"values":[{"i":1,"d":"2026-03-11T14:00Z","p":0.0031926},{"i":2,"d":"2026-04-03T22:00Z","p":0.0031926},{"i":3,"d":"2026-04-03T22:00Z","p":0.0030825},{"i":4,"d":"2026-03-14T17:00Z","p":0.0030825},{"i":5,"d":"2026-03-09T01:00Z","p":0.0030183},{"i":6,"d":"2026-03-12T05:00Z","p":0.0030825},{"i":7,"d":"2026-03-11T14:00Z","p":0.0030825},{"i":8,"d":"2026-03-11T14:00Z","p":0.0031926}]},"mark":{"type":"line","stroke":"#64b5f6","strokeWidth":2,"fill":"#e1d2ea"},"encoding":{"order":{"field":"i"}}},
{"data":{"values":[{"i":1,"d":"2026-03-06T18:00Z","p":0.0029862},{"i":2,"d":"2026-03-15T00:00Z","p":0.0035137},{"i":3,"d":"2026-03-11T01:00Z","p":0.0035137},{"i":4,"d":"2026-03-21T06:00Z","p":0.0036468},{"i":5,"d":"2026-03-23T19:00Z","p":0.0034403},{"i":6,"d":"2026-03-20T23:00Z","p":0.0034816},{"i":7,"d":"2026-03-06T18:00Z","p":0.0029862}]},"mark":{"type":"line","stroke":"#5da85d","strokeWidth":2,"fill":"#4caf50","fillOpacity":0.65},"encoding":{"order":{"field":"i"}}},
{"data":{"values":[{"d":"2026-03-23T06:00Z","p":0.0031375,"t":"0.003014"}]},"mark":{"type":"text","fontSize":14,"fontWeight":500,"color":"#5b5561","baseline":"middle"},"encoding":{"text":{"field":"t"}}},
{"data":{"values":[{"d":"2025-12-20T02:00Z","d2":"2025-12-27T04:00Z","p":0.003478,"p2":0.000894},{"d":"2026-03-26T22:00Z","d2":"2026-03-31T05:00Z","p":0.005,"p2":0.0008486}]},"mark":{"type":"rect","clip":true,"fill":"#4c9a50","fillOpacity":0.55},"encoding":{"x2":{"field":"d2"},"y2":{"field":"p2"}}},
{"data":{"values":[{"g":"a","d":"2025-12-23T12:00Z","p":0.000894},{"g":"a","d":"2025-12-23T12:00Z","p":0.003478},{"g":"b","d":"2026-03-28T22:00Z","p":0.005},{"g":"b","d":"2026-03-28T22:00Z","p":0.0008486},{"g":"c","d":"2025-12-20T00:00Z","p":0.003478},{"g":"c","d":"2025-12-27T06:00Z","p":0.003478},{"g":"d","d":"2025-12-20T00:00Z","p":0.000894},{"g":"d","d":"2025-12-27T06:00Z","p":0.000894},{"g":"e","d":"2026-03-26T20:00Z","p":0.0008486},{"g":"e","d":"2026-03-31T07:00Z","p":0.0008486},{"g":"f","i":1,"d":"2025-12-20T08:00Z","p":0.0034312},{"g":"f","i":2,"d":"2025-12-23T12:00Z","p":0.003478},{"g":"f","i":3,"d":"2025-12-26T14:00Z","p":0.0034312}]},"mark":{"type":"line","clip":true,"color":"#36433c","strokeWidth":1.8},"encoding":{"detail":{"field":"g"},"order":{"field":"i"}}},
{"data":{"values":[{"d":"2025-12-01T07:00Z","d2":"2026-01-14T14:00Z","p":0.0036376,"p2":0.0035229},{"d":"2026-03-05T08:00Z","d2":"2026-04-21T12:00Z","p":0.0041835,"p2":0.0040688}]},"mark":{"type":"rect","fill":"#3f7f46","fillOpacity":0.72,"cornerRadius":3},"encoding":{"x2":{"field":"d2"},"y2":{"field":"p2"}}},
{"data":{"values":[{"d":"2025-12-23T12:00Z","p":0.0035802,"t":"0.002584 (288.65%) 2,584"},{"d":"2026-03-28T22:00Z","p":0.0041261,"t":"0.009194 (1,082.32%) 9,194"}]},"mark":{"type":"text","fontSize":11.5,"color":"#131722","baseline":"middle"},"encoding":{"text":{"field":"t"}}},
{"data":{"values":[{"d":"2025-07-10T20:00Z","p":0.0025894,"t":"Soon channel will break to the upside and heavy pump after that"},{"d":"2025-09-11T02:00Z","p":0.0033578,"t":"To the moon after breaking 0.003$"}]},"mark":{"type":"text","fontSize":15.4,"color":"#1c1c1c","baseline":"middle","align":"left"},"encoding":{"text":{"field":"t"}}},
{"data":{"values":[{"d":"2025-04-29T03:00Z","d2":"2025-08-13T10:00Z","p":0.0039587,"p2":0.0027844}]},"mark":{"type":"rect","fill":"#ff9800","fillOpacity":0.2,"stroke":"#434651","strokeWidth":1.2},"encoding":{"x2":{"field":"d2"},"y2":{"field":"p2"}}},
{"data":{"values":[{"i":1,"d":"2025-06-04T23:00Z","p":0.003572},{"i":2,"d":"2025-07-06T23:00Z","p":0.0030197},{"i":3,"d":"2025-07-06T23:00Z","p":0.0027646},{"i":4,"d":"2025-06-04T23:00Z","p":0.0033197}]},"mark":{"type":"line","stroke":null,"fill":"#787b86","fillOpacity":0.2},"encoding":{"order":{"field":"i"}}},
{"data":{"values":[{"g":"u","d":"2025-06-04T23:00Z","p":0.003572},{"g":"u","d":"2025-07-06T23:00Z","p":0.0030197},{"g":"l","d":"2025-06-04T23:00Z","p":0.0033197},{"g":"l","d":"2025-07-06T23:00Z","p":0.0027646}]},"mark":{"type":"line","color":"#4a5cae","strokeWidth":0.9},"encoding":{"detail":{"field":"g"}}},
{"data":{"values":[{"d":"2025-06-04T23:00Z","p":0.0034458},{"d":"2025-07-06T23:00Z","p":0.0028922}]},"mark":{"type":"line","color":"#6aaee8","strokeWidth":1,"strokeDash":[3,5]}},
{"data":{"values":[{"g":"a","i":1,"d":"2025-05-25T20:00Z","p":0.0027949},{"g":"a","i":2,"d":"2025-06-11T21:00Z","p":0.0034371},{"g":"a","i":3,"d":"2025-06-13T00:00Z","p":0.0031743},{"g":"a","i":4,"d":"2025-06-18T23:00Z","p":0.0033348},{"g":"a","i":5,"d":"2025-06-22T18:00Z","p":0.0030275},{"g":"a","i":6,"d":"2025-06-28T22:00Z","p":0.0031697},{"g":"a","i":7,"d":"2025-06-30T01:00Z","p":0.0029756},{"g":"a","i":8,"d":"2025-07-04T23:00Z","p":0.0031619},{"g":"a","i":9,"d":"2025-07-04T19:00Z","p":0.0030582},{"g":"a","i":10,"d":"2025-07-29T02:00Z","p":0.0038885},{"g":"b","i":1,"d":"2025-07-25T03:00Z","p":0.0038656},{"g":"b","i":2,"d":"2025-07-29T02:00Z","p":0.0038885},{"g":"b","i":3,"d":"2025-07-30T16:00Z","p":0.0038243}]},"mark":{"type":"line","color":"#6b5a3e","strokeWidth":2},"encoding":{"detail":{"field":"g"},"order":{"field":"i"}}},
{"data":{"values":[{"d":"2025-07-04T21:00Z","p":0.003055}]},"mark":{"type":"circle","size":784,"fill":"#3f5fd8","fillOpacity":0.32,"stroke":"#12403c","strokeWidth":1,"opacity":1}},
{"data":{"values":[{"d":"2025-04-29T23:00Z","p":0.0038775,"t":"What is going on in next days for SLP"},{"d":"2025-04-29T23:00Z","p":0.0037307,"t":"breakout of descending channel and"},{"d":"2025-04-29T23:00Z","p":0.0036513,"t":"\\\\heavy pump//"}]},"mark":{"type":"text","fontSize":15.4,"fontWeight":"bold","fontStyle":"italic","color":"#0f0f0f","align":"left","baseline":"middle"},"encoding":{"text":{"field":"t"}}},
{"data":{"values":[{"d":"2025-04-14T02:00Z","d2":"2025-06-07T01:00Z","p":0.002766,"p2":0.001899}]},"mark":{"type":"rect","fill":"#ffffff"},"encoding":{"x2":{"field":"d2"},"y2":{"field":"p2"}}},
{"data":{"values":[{"d":"2025-05-10T22:00Z","p":0.0023325}]},"mark":{"type":"circle","size":35721,"fill":"#ffffff","stroke":"#ece2ab","strokeWidth":1.2,"opacity":1}},
{"data":{"values":[{"d":"2025-04-26T09:00Z","p":0.0024509,"t":"M","k":"#8dc044"},{"d":"2025-05-12T18:00Z","p":0.0024509,"t":"M","k":"#f5251d"},{"d":"2025-05-26T23:00Z","p":0.0024587,"t":"₿","k":"#edbc3d"}]},"mark":{"type":"text","font":"Liberation Sans","fontWeight":"bold","fontSize":62,"baseline":"middle"},"encoding":{"text":{"field":"t"},"color":{"field":"k","type":"nominal","scale":null}}},
{"data":{"values":[{"d":"2025-05-05T17:00Z","p":0.0022064,"t":"T"}]},"mark":{"type":"text","font":"Liberation Serif","fontWeight":"bold","fontSize":78,"color":"#15110c","baseline":"middle"},"encoding":{"text":{"field":"t"}}},
{"data":{"values":[{"d":"2025-05-13T12:00Z","p":0.0021238,"t":"rader"}]},"mark":{"type":"text","font":"Liberation Serif","fontWeight":"bold","fontSize":21,"color":"#15110c","baseline":"middle"},"encoding":{"text":{"field":"t"}}},
{"data":{"values":[{"g":"r","k":"#f5251d","d":"2025-04-29T08:00Z","p":0.0021683},{"g":"r","k":"#f5251d","d":"2025-04-30T22:00Z","p":0.0021986},{"g":"r","k":"#f5251d","d":"2025-05-02T19:00Z","p":0.0021958},{"g":"r","k":"#f5251d","d":"2025-05-05T16:00Z","p":0.0022215},{"g":"g","k":"#8dc044","d":"2025-05-03T18:00Z","p":0.0022293},{"g":"g","k":"#8dc044","d":"2025-05-06T14:00Z","p":0.0022522},{"g":"g","k":"#8dc044","d":"2025-05-08T00:00Z","p":0.0022476},{"g":"g","k":"#8dc044","d":"2025-05-10T05:00Z","p":0.0022798}]},"mark":{"type":"line","strokeWidth":1.4},"encoding":{"detail":{"field":"g"},"color":{"field":"k","type":"nominal","scale":null}}},
{"data":{"values":[{"d":"2025-03-22T15:00Z","p":0.0041101,"t":"Vol · SLP"}]},"mark":{"type":"text","fontSize":12,"color":"#131722","align":"left","baseline":"middle"},"encoding":{"text":{"field":"t"}}},
{"data":{"values":[{"d":"2026-05-07T02:00Z","d2":"2026-05-22T18:00Z","p":0.0009311,"p2":0.0008577},{"d":"2026-05-23T01:00Z","d2":"2026-06-13T02:00Z","p":0.0009311,"p2":0.0008577}]},"mark":{"type":"rect","fill":"#f23645"},"encoding":{"x2":{"field":"d2"},"y2":{"field":"p2"}}},
{"data":{"values":[{"d":"2026-05-15T02:00Z","p":0.000894,"t":"SLPUSDT","a":"center"},{"d":"2026-05-25T07:00Z","p":0.000894,"t":"0.000894","a":"left"}]},"mark":{"type":"text","fontSize":12,"color":"#ffffff","baseline":"middle","align":{"expr":"datum.a"}},"encoding":{"text":{"field":"t"}}},
{"data":{"values":[{"d":"2026-05-23T22:00Z","d2":"2026-06-11T10:00Z","p":0.0041651,"p2":0.0040504}]},"mark":{"type":"rect","fill":"#ffffff","stroke":"#e8eaee","strokeWidth":1.2,"cornerRadius":3},"encoding":{"x2":{"field":"d2"},"y2":{"field":"p2"}}},
{"data":{"values":[{"d":"2026-05-26T11:00Z","p":0.0041009,"t":"USDT"}]},"mark":{"type":"text","fontSize":12,"color":"#131722","align":"left","baseline":"middle"},"encoding":{"text":{"field":"t"}}},
{"data":{"values":[{"d":"2025-03-20T02:00Z","d2":"2026-06-12T19:00Z","p":0.004188,"p2":0.000564}]},"mark":{"type":"rect","fill":null,"stroke":"#2a2e39","strokeWidth":1.2},"encoding":{"x2":{"field":"d2"},"y2":{"field":"p2"}}},
{"data":{"values":[{"d":"2025-03-20T02:00Z","p":0.0043303,"t":"MMBTtrader"},{"d":"2025-03-20T02:00Z","p":0.00425,"t":"BINANCE:SLPUSDT, 1D"},{"d":"2025-06-19T20:00Z","p":0.00425,"t":"O:"},{"d":"2025-07-10T07:00Z","p":0.00425,"t":"H:"},{"d":"2025-07-30T11:00Z","p":0.00425,"t":"L:"},{"d":"2025-08-18T18:00Z","p":0.00425,"t":"C:"}]},"mark":{"type":"text","fontSize":12.2,"fontWeight":600,"color":"#131722","align":"left","baseline":"middle"},"encoding":{"text":{"field":"t"}}},
{"data":{"values":[{"d":"2025-04-11T12:00Z","p":0.0043303,"t":"published on TradingView.com, November 22, 2025 14:49:41 EST"},{"d":"2025-04-27T17:00Z","p":0.00425,"t":"0.000894"},{"d":"2025-05-17T14:00Z","p":0.00425,"t":"−0.000065 (−6.78%)"}]},"mark":{"type":"text","fontSize":12.2,"color":"#131722","align":"left","baseline":"middle"},"encoding":{"text":{"field":"t"}}},
{"data":{"values":[{"d":"2025-05-13T22:00Z","p":0.00425,"t":"▼"},{"d":"2025-06-24T02:00Z","p":0.00425,"t":"0.000960"},{"d":"2025-07-14T06:00Z","p":0.00425,"t":"0.000970"},{"d":"2025-08-02T14:00Z","p":0.00425,"t":"0.000884"},{"d":"2025-08-22T04:00Z","p":0.00425,"t":"0.000894"}]},"mark":{"type":"text","fontSize":12.2,"color":"#f23645","align":"left","baseline":"middle"},"encoding":{"text":{"field":"t"}}},
{"data":{"values":[{"g":"t","i":1,"d":"2025-03-20T02:00Z","p":0.0005059},{"g":"t","i":2,"d":"2025-03-23T07:00Z","p":0.0005059},{"g":"t","i":3,"d":"2025-03-23T07:00Z","p":0.0004527},{"g":"t","i":4,"d":"2025-03-21T12:00Z","p":0.0004527},{"g":"t","i":5,"d":"2025-03-21T12:00Z","p":0.0004894},{"g":"t","i":6,"d":"2025-03-20T02:00Z","p":0.0004894},{"g":"s","i":1,"d":"2025-03-26T10:00Z","p":0.0005059},{"g":"s","i":2,"d":"2025-03-24T23:00Z","p":0.0004527},{"g":"s","i":3,"d":"2025-03-23T15:00Z","p":0.0004527},{"g":"s","i":4,"d":"2025-03-25T01:00Z","p":0.0005059}]},"mark":{"type":"line","stroke":null,"fill":"#131722"},"encoding":{"detail":{"field":"g"},"order":{"field":"i"}}},
{"data":{"values":[{"d":"2025-03-24T06:00Z","p":0.000497}]},"mark":{"type":"circle","size":16,"color":"#131722","opacity":1}},
{"data":{"values":[{"d":"2025-03-28T00:00Z","p":0.000477,"t":"TradingView"}]},"mark":{"type":"text","font":"Inter","fontSize":15,"fontWeight":600,"color":"#131722","align":"left","baseline":"middle"},"encoding":{"text":{"field":"t"}}}
]}
]}
